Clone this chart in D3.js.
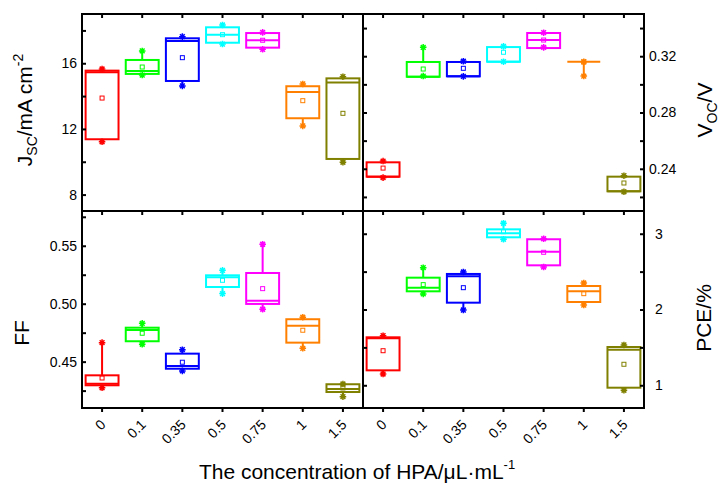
<!DOCTYPE html>
<html>
<head>
<meta charset="utf-8">
<script src="https://cdn.jsdelivr.net/npm/d3@7"></script>
<style>
  body { margin: 0; background: #fff; }
  text { font-family: "Liberation Sans", Arial, sans-serif; fill: #000; }
</style>
</head>
<body>
<div id="chart"></div>
<script>
"use strict";

/* ── Data: one row per concentration = [min, q1, median, q3, max, mean] ── */
const cats   = ["0", "0.1", "0.35", "0.5", "0.75", "1", "1.5"];
const colors = ["#ff0000", "#00ff00", "#0000ff", "#00ffff", "#ff00ff", "#ff8000", "#808000"];

const jscRows = [
  [11.22, 11.37, 15.45, 15.55, 15.65, 13.88],
  [15.28, 15.35, 15.53, 16.20, 16.75, 15.77],
  [14.62, 14.92, 17.36, 17.52, 17.62, 16.34],
  [17.17, 17.25, 17.74, 18.19, 18.33, 17.74],
  [16.85, 16.95, 17.40, 17.84, 17.88, 17.40],
  [12.18, 12.65, 14.25, 14.60, 14.74, 13.72],
  [ 9.97, 10.17, 14.82, 15.08, 15.18, 12.95]
];
const vocRows = [
  [0.2337, 0.2344, 0.2344, 0.2446, 0.2455, 0.2405],
  [0.3059, 0.3054, 0.3054, 0.3159, 0.3263, 0.3109],
  [0.3057, 0.3057, 0.3057, 0.3159, 0.3164, 0.3114],
  [0.3161, 0.3161, 0.3161, 0.3265, 0.3270, 0.3228],
  [0.3263, 0.3258, 0.3315, 0.3365, 0.3367, 0.3315],
  [0.3059, 0.3161, 0.3161, 0.3161, 0.3161, 0.3158],
  [0.2237, 0.2240, 0.2240, 0.2344, 0.2351, 0.2299]
];
const ffRows = [
  [0.4275, 0.4296, 0.4310, 0.4382, 0.4664, 0.4359],
  [0.4650, 0.4676, 0.4773, 0.4793, 0.4831, 0.4745],
  [0.4420, 0.4439, 0.4463, 0.4569, 0.4603, 0.4495],
  [0.5087, 0.5144, 0.5228, 0.5245, 0.5288, 0.5202],
  [0.4952, 0.4998, 0.5026, 0.5265, 0.5513, 0.5130],
  [0.4615, 0.4664, 0.4810, 0.4866, 0.4883, 0.4771],
  [0.4198, 0.4238, 0.4264, 0.4305, 0.4307, 0.4273]
];
const pceRows = [
  [1.149, 1.197, 1.620, 1.633, 1.654, 1.456],
  [2.205, 2.240, 2.288, 2.420, 2.552, 2.328],
  [1.993, 2.090, 2.438, 2.469, 2.495, 2.288],
  [2.927, 2.953, 3.006, 3.058, 3.138, 3.027],
  [2.561, 2.583, 2.763, 2.927, 2.934, 2.755],
  [2.059, 2.099, 2.240, 2.310, 2.350, 2.209],
  [0.934, 0.968, 1.470, 1.505, 1.532, 1.277]
];

/* ── Axis ticks ── */
const jscTicks = [8, 10, 12, 14, 16, 18],              jscLabels = [8, 12, 16];
const vocTicks = [0.22, 0.24, 0.26, 0.28, 0.30, 0.32, 0.34], vocLabels = [0.24, 0.28, 0.32];
const ffTicks  = [0.425, 0.45, 0.475, 0.5, 0.525, 0.55, 0.575], ffLabels = [0.45, 0.5, 0.55];
const pceTicks = [1, 1.5, 2, 2.5, 3],                   pceLabels = [1, 2, 3];

/* ── Layout ── */
const W = 724, H = 486;
const xL = [82, 363], xR = [363, 644];
const yT = [14, 211], yB = [211, 408];
const FONT = "'Liberation Sans', Arial, sans-serif";

const svg = d3.select("#chart").append("svg")
  .attr("width", W).attr("height", H);

const panels = [
  { rows: jscRows, xr: xL, yr: yT, dom: [7, 19],      ticks: jscTicks, labels: jscLabels, fmt: d3.format("d"),   side: "left",  pad: 5  },
  { rows: vocRows, xr: xR, yr: yT, dom: [0.21, 0.35], ticks: vocTicks, labels: vocLabels, fmt: d3.format(".2f"), side: "right", pad: 5  },
  { rows: ffRows,  xr: xL, yr: yB, dom: [0.41, 0.58], ticks: ffTicks,  labels: ffLabels,  fmt: d3.format(".2f"), side: "left",  pad: 5  },
  { rows: pceRows, xr: xR, yr: yB, dom: [0.7, 3.3],   ticks: pceTicks, labels: pceLabels, fmt: d3.format("d"),   side: "right", pad: 11 }
];

/* asterisk marker used at whisker ends */
function starPath(cx, cy, r) {
  const d = r * 0.72;
  return `M${cx - r},${cy}H${cx + r}M${cx},${cy - r}V${cy + r}` +
         `M${cx - d},${cy - d}L${cx + d},${cy + d}M${cx - d},${cy + d}L${cx + d},${cy - d}`;
}

panels.forEach(p => {
  const x = d3.scaleBand().domain(cats).range(p.xr).paddingInner(0.18).paddingOuter(0.09);
  const y = d3.scaleLinear().domain(p.dom).range([p.yr[1], p.yr[0]]);
  const bw = x.bandwidth();
  const cx = i => x(cats[i]) + bw / 2;
  const g = svg.append("g");

  const box = g.selectAll("g.box")
    .data(p.rows)
    .join("g")
    .attr("class", "box")
    .attr("stroke", (d, i) => colors[i])
    .attr("fill", "none");

  /* whiskers */
  box.append("path")
    .attr("stroke-width", 2)
    .attr("d", (d, i) => `M${cx(i)},${y(d[3])}V${y(d[4])}M${cx(i)},${y(d[1])}V${y(d[0])}`);

  /* box */
  box.append("rect")
    .attr("stroke-width", 2)
    .attr("x", (d, i) => x(cats[i]))
    .attr("width", bw)
    .attr("y", d => y(d[3]))
    .attr("height", d => Math.max(0, y(d[1]) - y(d[3])));

  /* median */
  box.append("line")
    .attr("stroke-width", 2)
    .attr("x1", (d, i) => x(cats[i]))
    .attr("x2", (d, i) => x(cats[i]) + bw)
    .attr("y1", d => y(d[2]))
    .attr("y2", d => y(d[2]));

  /* min / max markers */
  box.append("path")
    .attr("stroke-width", 1.5)
    .attr("d", (d, i) => starPath(cx(i), y(d[0]), 3.3) + starPath(cx(i), y(d[4]), 3.3));

  /* mean */
  box.append("rect")
    .attr("stroke-width", 1)
    .attr("x", (d, i) => cx(i) - 2)
    .attr("y", d => y(d[5]) - 2)
    .attr("width", 4).attr("height", 4);

  /* ── Frame ── */
  g.append("rect")
    .attr("x", p.xr[0]).attr("y", p.yr[0])
    .attr("width", p.xr[1] - p.xr[0]).attr("height", p.yr[1] - p.yr[0])
    .attr("fill", "none").attr("stroke", "#000").attr("stroke-width", 2);

  /* ── Y axes ── */
  const fmtLab = d => p.labels.some(v => Math.abs(v - d) < 1e-9) ? p.fmt(d) : "";
  let ax;
  if (p.side === "left") {
    ax = g.append("g").attr("transform", `translate(${p.xr[0]},0)`)
      .call(d3.axisLeft(y).tickValues(p.ticks).tickSize(-4).tickPadding(p.pad).tickFormat(fmtLab));
  } else {
    ax = g.append("g").attr("transform", `translate(${p.xr[1]},0)`)
      .call(d3.axisRight(y).tickValues(p.ticks).tickSize(-4).tickPadding(p.pad).tickFormat(fmtLab));
    g.append("g").attr("transform", `translate(${p.xr[0]},0)`)
      .call(d3.axisRight(y).tickValues(p.ticks).tickSize(4).tickFormat(""))
      .call(a => a.select(".domain").remove());
  }
  ax.select(".domain").remove();
  g.selectAll(".tick line").attr("stroke", "#000").attr("stroke-width", 2);
  ax.selectAll("text").attr("font-size", "14px").attr("font-family", FONT);

  /* ── X ticks ── */
  const top = g.append("g").attr("transform", `translate(0,${p.yr[0]})`)
    .call(d3.axisBottom(x).tickSize(4).tickFormat(""));
  top.select(".domain").remove();
  top.selectAll(".tick line").attr("stroke", "#000").attr("stroke-width", 2);

  if (p.yr === yB) {
    const bot = g.append("g").attr("transform", `translate(0,${p.yr[1]})`)
      .call(d3.axisBottom(x).tickSize(4).tickPadding(0));
    bot.select(".domain").remove();
    bot.selectAll(".tick line").attr("stroke", "#000").attr("stroke-width", 2);
    bot.selectAll("text")
      .attr("font-size", "14px")
      .attr("font-family", FONT)
      .attr("text-anchor", "end")
      .attr("dy", "0.35em")
      .attr("transform", "translate(1,14) rotate(-45)")
      .attr("y", 0).attr("x", 0);
  }
});

/* ── Axis titles ── */
const lab = svg.append("g").attr("font-size", "21px");

const jsc = lab.append("text")
  .attr("transform", "translate(32,110) rotate(-90)")
  .attr("text-anchor", "middle");
jsc.append("tspan").text("J");
jsc.append("tspan").attr("font-size", "14px").attr("dy", 5).text("SC");
jsc.append("tspan").attr("dy", -5).text("/mA cm");
jsc.append("tspan").attr("font-size", "14px").attr("dy", -9).text("-2");

lab.append("text")
  .attr("transform", "translate(29,333) rotate(-90)")
  .attr("text-anchor", "middle")
  .text("FF");

const voc = lab.append("text")
  .attr("transform", "translate(712,110) rotate(-90)")
  .attr("text-anchor", "middle");
voc.append("tspan").text("V");
voc.append("tspan").attr("font-size", "14px").attr("dy", 5).text("OC");
voc.append("tspan").attr("dy", -5).text("/V");

lab.append("text")
  .attr("transform", "translate(711,318) rotate(-90)")
  .attr("text-anchor", "middle")
  .text("PCE/%");

const xt = svg.append("text")
  .attr("x", 357).attr("y", 479)
  .attr("text-anchor", "middle")
  .attr("font-size", "21px");
xt.append("tspan").text("The concentration of HPA/\u03bcL\u00b7mL");
xt.append("tspan").attr("font-size", "13px").attr("dy", -10).text("-1");
</script>
</body>
</html>
